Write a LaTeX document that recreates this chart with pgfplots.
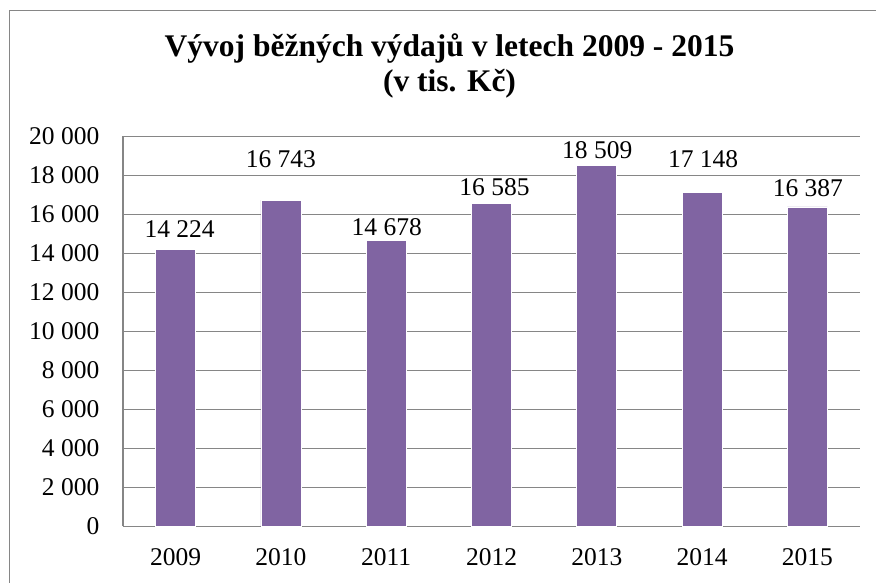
\documentclass[border=0pt]{standalone}
\usepackage{fontspec}
\setmainfont{Liberation Serif}
\usepackage{pgfplots}
\pgfplotsset{compat=1.18}
\definecolor{barpurple}{RGB}{128,100,162}
\definecolor{gridgray}{RGB}{134,134,134}
\begin{document}
\begin{tikzpicture}[x=1bp,y=1bp]
\useasboundingbox (0,0) rectangle (876,583);
\draw[gridgray, line width=1.2bp] (9.5,-2) -- (9.5,572.5) -- (878,572.5);
\node[anchor=base, inner sep=0pt, font=\fontsize{31.5bp}{36bp}\selectfont\bfseries] at (449.5,526) {Vývoj běžných výdajů v letech 2009 - 2015};
\node[anchor=base, inner sep=0pt, font=\fontsize{31.5bp}{36bp}\selectfont\bfseries] at (449.5,491) {(v tis. Kč)};
\begin{axis}[
  at={(123bp,56.5bp)}, anchor=south west,
  width=737bp, height=390bp, scale only axis,
  xmin=-0.5, xmax=6.5, ymin=0, ymax=20000,
  ytick={0,2000,4000,6000,8000,10000,12000,14000,16000,18000,20000},
  xtick={0,1,2,3,4,5,6},
  xticklabels={2009,2010,2011,2012,2013,2014,2015},
  axis lines*=left,
  axis line style={gridgray, line width=1.2bp},
  major tick length=0pt,
  ymajorgrids,
  grid style={gridgray, line width=1.2bp},
  scaled y ticks=false,
  clip=false,
  yticklabel style={font=\fontsize{25.5bp}{30bp}\selectfont, anchor=east, inner sep=0pt, xshift=-23.5bp},
  xticklabel style={font=\fontsize{25.5bp}{30bp}\selectfont, anchor=north, inner sep=0pt, yshift=-22bp},
  /pgf/number format/1000 sep={\ },
  /pgf/number format/assume math mode=true,
]
\addplot[ybar, bar width=40bp, fill=barpurple, draw=white, line width=0.8bp,
  nodes near coords,
  visualization depends on={\thisrow{off} \as \laboff},
  visualization depends on={\thisrow{xoff} \as \labxoff},
  every node near coord/.append style={anchor=base, inner sep=0pt, yshift=\laboff bp, xshift=\labxoff bp, font=\fontsize{25.5bp}{30bp}\selectfont, text=black}
] table {
x y off xoff
0 14224 11.8 4
1 16743 32.7 0
2 14678 4.6 0.5
3 16585 7.1 3
4 18509 6.6 0.5
5 17148 24.8 1
6 16387 10.3 0.5
};
\end{axis}
\end{tikzpicture}
\end{document}
